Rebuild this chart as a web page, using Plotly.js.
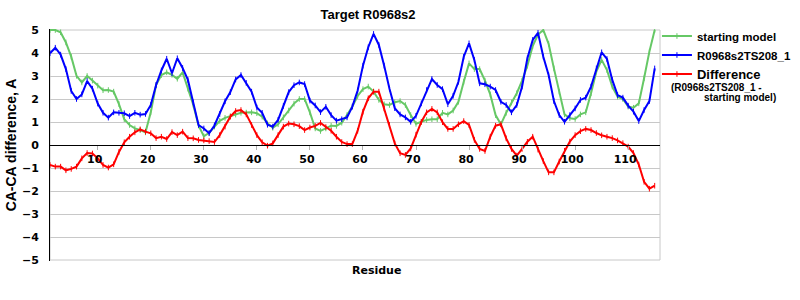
<!DOCTYPE html>
<html>
<head>
<meta charset="utf-8">
<script src="https://cdn.plot.ly/plotly-3.0.1.min.js"></script>
<style>html,body{margin:0;padding:0;background:#fff;}#chart{width:800px;height:300px;}</style>
</head>
<body>
<div id="chart"></div>
<script>
const residues = Array.from({length: 115}, (_, i) => i + 1);

const startingModel = [
  5.0, 5.0, 4.9, 4.46, 3.84, 3.01, 2.72, 3.0, 2.8, 2.58,
  2.38, 2.39, 2.32, 1.78, 1.12, 0.87, 0.72, 0.65, 0.55, 1.42,
  2.61, 3.04, 3.16, 3.05, 2.88, 3.16, 2.45, 1.75, 0.85, 0.38,
  0.53, 0.8, 1.05, 1.18, 1.25, 1.32, 1.4, 1.41, 1.42, 1.38,
  1.23, 0.94, 0.75, 0.9, 1.2, 1.5, 1.8, 2.0, 2.0, 1.42,
  0.72, 0.61, 0.72, 0.84, 0.83, 0.97, 1.3, 1.67, 2.13, 2.43,
  2.54, 2.32, 1.96, 1.77, 1.74, 1.86, 1.91, 1.74, 1.3, 0.92,
  1.01, 1.09, 1.12, 1.12, 1.4, 1.33, 1.5, 1.88, 2.75, 3.55,
  3.3, 3.3, 2.8, 2.2, 1.3, 0.9, 1.4, 1.85, 2.25, 2.8,
  3.45, 4.3, 4.8, 5.0, 4.4, 3.33, 2.32, 1.33, 1.16, 1.13,
  1.33, 1.42, 2.25, 3.19, 3.7, 3.26, 2.54, 2.1, 2.0, 1.67,
  1.62, 1.81, 2.9, 4.06, 5.0
];

const modelTS208 = [
  3.99, 4.23, 3.93, 3.3, 2.35, 2.0, 2.2, 2.78, 2.45, 1.8,
  1.4, 1.19, 1.42, 1.4, 1.38, 1.26, 1.4, 1.32, 1.35, 1.74,
  2.61, 3.24, 3.75, 3.12, 3.77, 3.35, 2.83, 1.85, 0.87, 0.72,
  0.51, 0.85, 1.35, 1.9, 2.3, 2.85, 3.04, 2.7, 2.32, 1.63,
  1.4, 0.88, 0.8, 1.09, 1.7, 2.3, 2.6, 2.72, 2.65, 1.93,
  1.72, 1.43, 1.66, 1.3, 1.06, 1.12, 1.2, 1.67, 2.37, 3.45,
  4.25, 4.83, 4.35, 3.45, 2.45, 1.6, 1.33, 1.2, 1.01, 1.27,
  1.81, 2.39, 2.87, 2.61, 2.43, 1.77, 2.14, 2.75, 3.84, 4.42,
  3.7, 2.68, 2.64, 2.54, 2.39, 1.88, 1.74, 1.42, 1.74, 2.54,
  3.77, 4.57, 4.88, 3.84, 3.04, 1.91, 1.3, 1.01, 1.3, 1.59,
  1.96, 2.06, 2.54, 3.33, 4.03, 3.74, 2.83, 2.17, 2.06, 1.71,
  1.45, 1.04, 1.52, 1.91, 3.33
];

const difference = [
  -0.87, -0.94, -0.94, -1.1, -1.04, -0.94, -0.58, -0.35, -0.37, -0.58,
  -0.87, -0.98, -0.84, -0.3, 0.12, 0.36, 0.55, 0.68, 0.58, 0.51,
  0.3, 0.36, 0.26, 0.56, 0.43, 0.58, 0.3, 0.29, 0.22, 0.2,
  0.17, 0.13, 0.43, 0.8, 1.23, 1.48, 1.52, 1.33, 0.87, 0.43,
  0.12, -0.03, 0.07, 0.43, 0.8, 0.93, 0.9, 0.82, 0.65, 0.76,
  0.83, 0.96, 0.78, 0.62, 0.36, 0.13, 0.04, 0.04, 0.62, 1.45,
  2.03, 2.32, 2.32, 1.59, 0.87, 0.07, -0.36, -0.43, -0.15, 0.45,
  1.0, 1.42, 1.57, 1.42, 0.99, 0.7, 0.7, 0.9, 1.04, 0.87,
  0.22, -0.17, -0.26, 0.36, 0.84, 0.9, 0.29, -0.17, -0.46, -0.17,
  0.14, 0.36, -0.2, -0.7, -1.19, -1.19, -0.72, -0.25, 0.15, 0.43,
  0.6, 0.7, 0.65, 0.52, 0.42, 0.36, 0.3, 0.2, 0.08, -0.07,
  -0.35, -0.85, -1.6, -1.9, -1.77
];

const xTicks = [10, 20, 30, 40, 50, 60, 70, 80, 90, 100, 110];
const yTicks = [-5, -4, -3, -2, -1, 0, 1, 2, 3, 4, 5];

const seriesNames = [
  'starting model',
  'R0968s2TS208_1',
  '<span style="font-size:13px">Difference</span>'
];
const diffNote = ['(R0968s2TS208_1 -', 'starting model)'];
const seriesColors = ['#66c866', '#0000ff', '#ff0000'];
const seriesData = [startingModel, modelTS208, difference];

const traces = seriesData.map((vals, i) => ({
  type: 'scatter',
  mode: 'lines+markers',
  x: residues,
  y: vals,
  name: seriesNames[i],
  line: {color: seriesColors[i], width: 2},
  marker: {symbol: 'line-ns-open', size: 4, color: seriesColors[i], line: {color: seriesColors[i], width: 1}},
  cliponaxis: true
}));

const boldArial = {family: 'Liberation Sans, Arial, sans-serif', weight: 'bold', color: '#000'};
const boldDeja = {family: 'DejaVu Sans, sans-serif', weight: 'bold', color: '#000'};

const layout = {
  width: 800,
  height: 300,
  margin: {l: 50, r: 140, t: 29, b: 39, autoexpand: false},
  paper_bgcolor: '#fff',
  plot_bgcolor: '#fff',
  showlegend: true,
  title: {
    text: 'Target R0968s2',
    font: Object.assign({size: 13}, boldArial),
    x: 368 / 800, xref: 'container', xanchor: 'center',
    y: 1 - 14 / 300, yref: 'container', yanchor: 'middle'
  },
  xaxis: {
    range: [1, 116],
    tickvals: xTicks,
    ticktext: xTicks.map(String),
    anchor: 'free',
    position: 0.5,
    showline: true,
    linecolor: '#000',
    linewidth: 1,
    showgrid: false,
    zeroline: false,
    ticks: 'outside',
    ticklen: 4,
    tickcolor: '#b0b0b0',
    tickfont: Object.assign({size: 11}, boldDeja),
    ticklabelshift: -3
  },
  yaxis: {
    range: [-5.0435, 5.0435],
    tickvals: yTicks,
    showline: true,
    linecolor: '#000',
    linewidth: 1,
    showgrid: true,
    gridcolor: '#c8c8c8',
    gridwidth: 1,
    zeroline: false,
    ticks: '',
    ticklabelstandoff: 8,
    tickfont: Object.assign({size: 11}, boldDeja),
    title: {text: 'CA-CA difference, A', font: Object.assign({size: 14}, boldArial), standoff: 2}
  },
  legend: {
    x: 0.995, xanchor: 'left',
    y: 1.03, yanchor: 'top',
    font: Object.assign({size: 11.5}, boldArial),
    bgcolor: 'rgba(0,0,0,0)',
    itemwidth: 30,
    valign: 'top',
    tracegroupgap: 0
  },
  shapes: [{
    type: 'rect', xref: 'paper', yref: 'y',
    x0: 0, x1: 1, y0: -5, y1: 5,
    line: {color: '#c8c8c8', width: 1},
    fillcolor: 'rgba(0,0,0,0)',
    layer: 'below'
  }],
  annotations: [
    {
      text: 'Residue',
      xref: 'paper', yref: 'paper',
      x: (376 - 50) / 610, y: (261 - 270) / 232,
      xanchor: 'center', yanchor: 'middle',
      showarrow: false,
      font: Object.assign({size: 11}, boldDeja)
    },
    {
      text: diffNote[0],
      xref: 'paper', yref: 'paper',
      x: (669 - 50) / 610, y: (261 - 87) / 232,
      xanchor: 'left', yanchor: 'middle',
      showarrow: false,
      font: Object.assign({size: 10}, boldArial)
    },
    {
      text: diffNote[1],
      xref: 'paper', yref: 'paper',
      x: (702 - 50) / 610, y: (261 - 97) / 232,
      xanchor: 'left', yanchor: 'middle',
      showarrow: false,
      font: Object.assign({size: 10}, boldArial)
    }
  ]
};

Plotly.newPlot('chart', traces, layout, {displayModeBar: false, staticPlot: true});
</script>
</body>
</html>
